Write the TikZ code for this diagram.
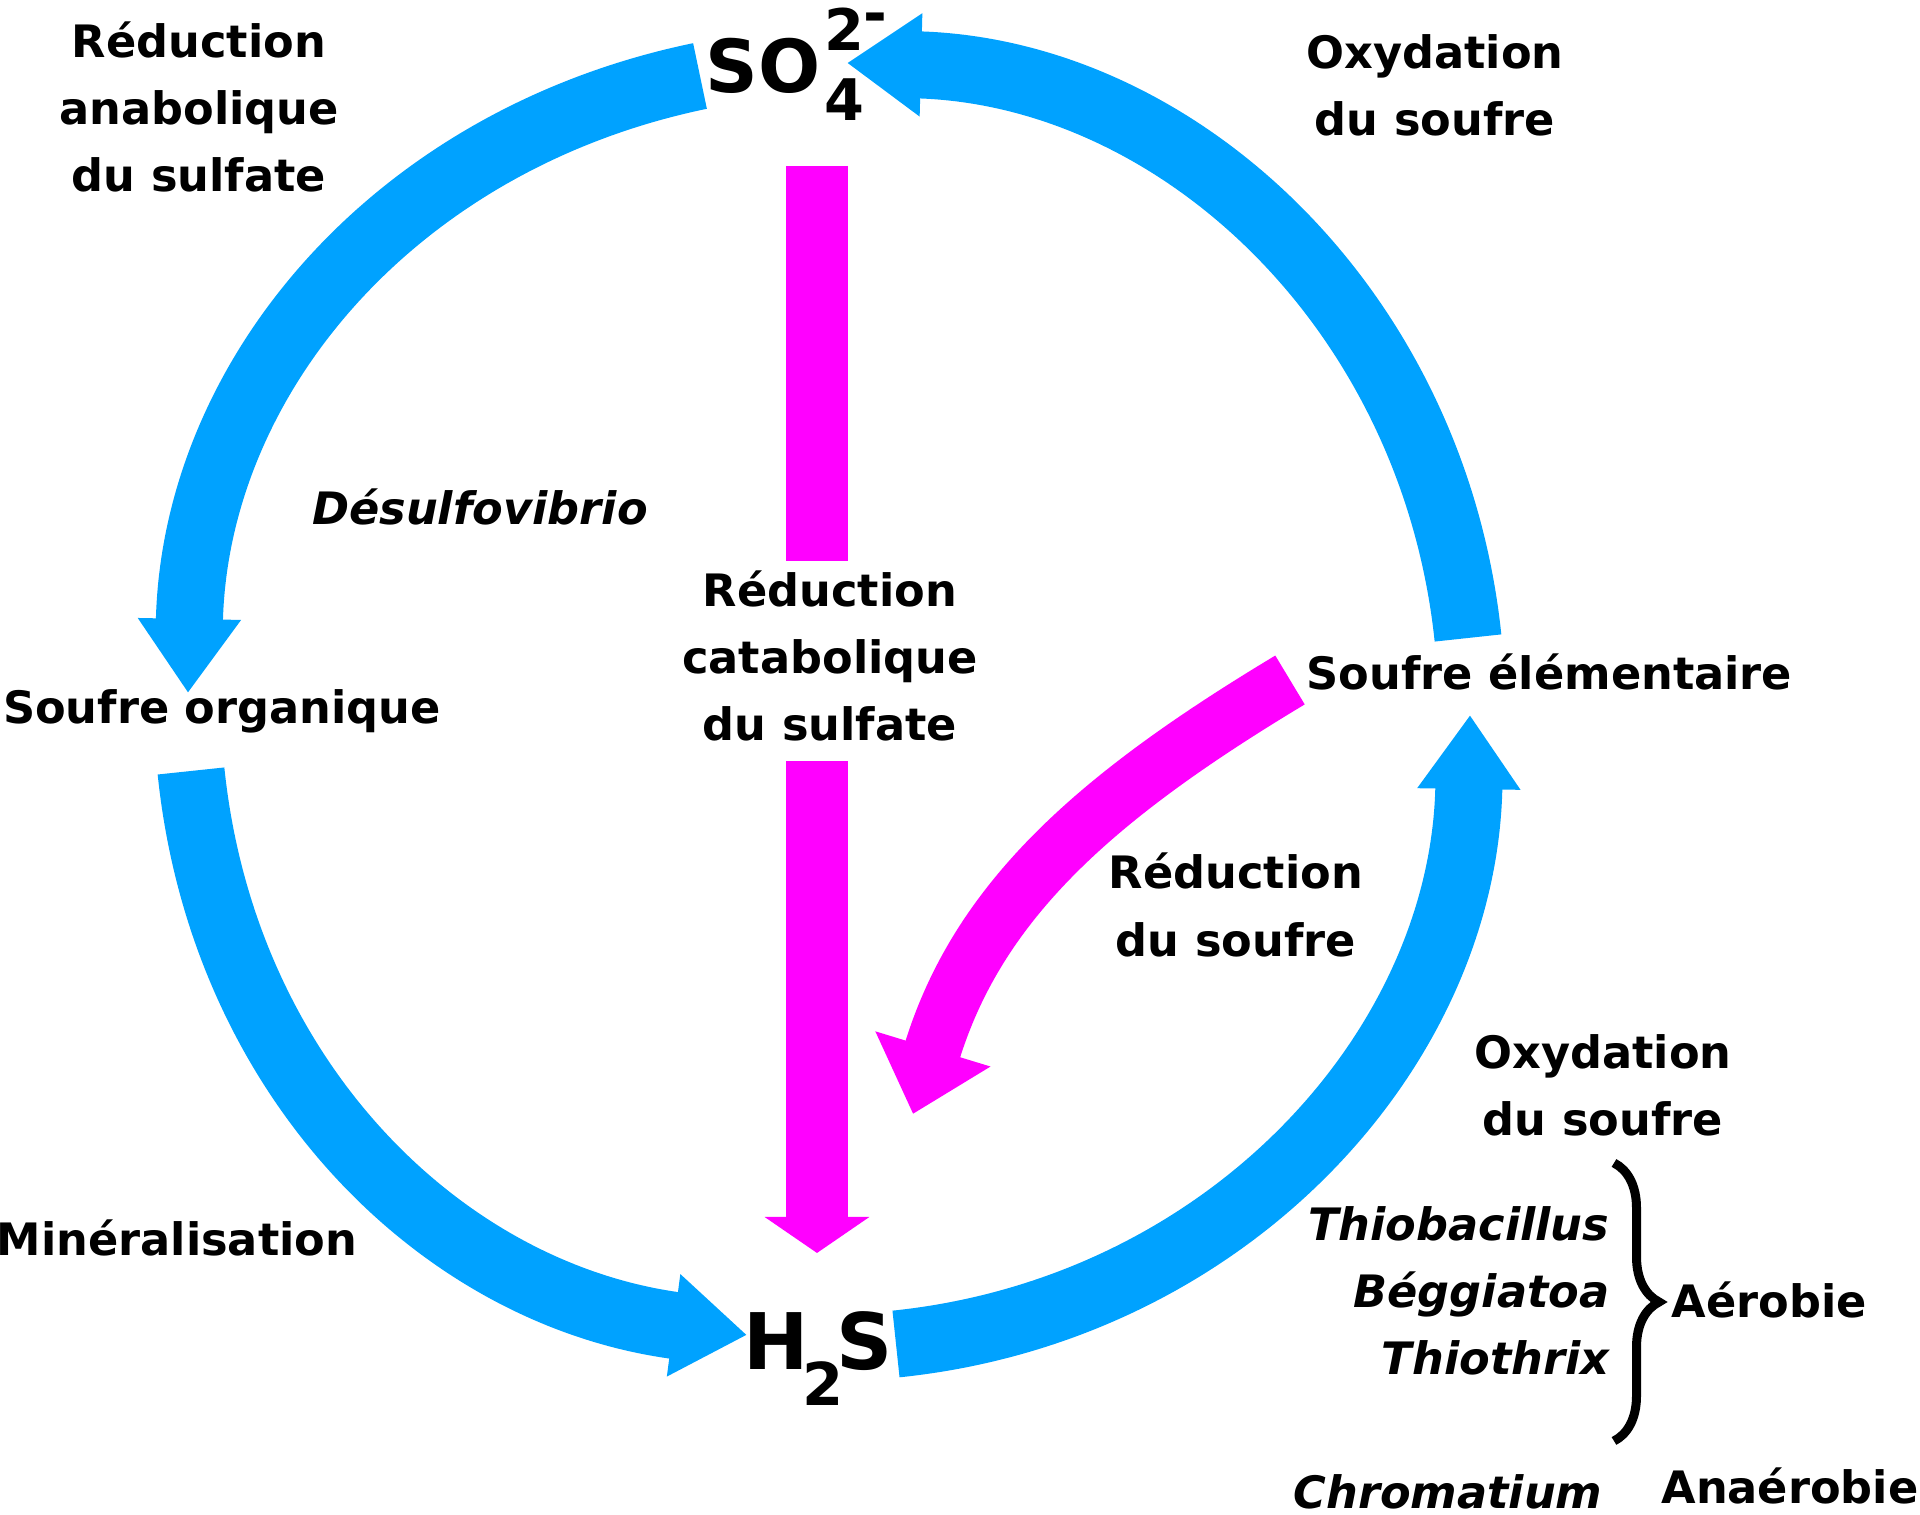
\documentclass[tikz,border=0pt]{standalone}
\usepackage{fontspec}
\setmainfont{DejaVu Sans}[BoldItalicFont={DejaVu Sans Bold Oblique}]
\usetikzlibrary{arrows.meta,decorations.pathreplacing}
\definecolor{cycleblue}{HTML}{00A2FF}
\definecolor{cyclepink}{HTML}{FF00FF}

\begin{document}
\begin{tikzpicture}[x=0.01cm, y=0.01cm,
        lbl/.style={font=\fontsize{12.7}{19.1}\selectfont\bfseries, inner sep=0pt, align=center},
        genus/.style={lbl, font=\fontsize{12.7}{19.1}\selectfont\bfseries\itshape},
        cyc/.style={draw=cycleblue, line width=0.67cm, -{Triangle[width=0.98cm,length=0.74cm]}},
        catbar/.style={draw=cyclepink, line width=0.62cm},
        souf/.style={draw=cyclepink, line width=0.57cm, -{Triangle[width=1.16cm,length=0.68cm]}}]
        \useasboundingbox (0,0) rectangle (1920,1515);
        % Species
        \node[anchor=base west, inner sep=0pt, font=\bfseries] (so4) at (705,1422)
            {\fontsize{20.8}{22}\selectfont SO\hspace{1pt}\rlap{\raisebox{-7.7pt}{\fontsize{16.3}{17}\selectfont 4}}\raisebox{12.2pt}{\fontsize{16.3}{17}\selectfont 2\raisebox{4.6pt}{-}}};
        \node[anchor=base west, inner sep=0pt, font=\bfseries] (h2s) at (743,145)
            {\fontsize{22.2}{24}\selectfont H\hspace{-2pt}\raisebox{-10pt}{\fontsize{16.8}{18}\selectfont 2}\hspace{-2pt}S};
        \node[lbl, anchor=base] (sorg) at (222,791) {Soufre organique};
        \node[lbl, anchor=base west] (selem) at (1306,825) {Soufre élémentaire};
        % Processes
        \node[lbl] (anab) at (199,1408) {Réduction\\anabolique\\du sulfate};
        \node[lbl] (oxyd) at (1435,1430) {Oxydation\\du soufre};
        \node[genus, anchor=base] (desulfo) at (480,990) {Désulfovibrio};
        \node[lbl, outer sep=0.1cm] (catab) at (830,859) {Réduction\\catabolique\\du sulfate};
        \node[lbl] (redsouf) at (1236,610) {Réduction\\du soufre};
        \node[lbl, anchor=base] (miner) at (177,259) {Minéralisation};
        \node[lbl] (oxyd2) at (1603,430) {Oxydation\\du soufre};
        % Bacteria
        \node[genus, align=right, anchor=east] (thio) at (1610,224) {Thiobacillus\\Béggiatoa\\Thiothrix};
        \node[lbl, anchor=base west] (aero) at (1671,197) {Aérobie};
        \node[genus, anchor=base] (chrom) at (1448,6) {Chromatium};
        \node[lbl, anchor=base] (anaero) at (1790,11) {Anaérobie};
        % Ends of the arrows on the cycle
        \coordinate (so4w) at (700,1439);
        \coordinate (sorgn) at (188,822);
        \coordinate (sorgs) at (191,744);
        \coordinate (h2sw) at (747,180);
        \coordinate (h2se) at (896,171);
        \coordinate (selems) at (1470,800);
        \coordinate (selemn) at (1468,877);
        \coordinate (so4e) at (847,1452);
        \coordinate (cattop) at (817,1349);
        \coordinate (h2sn) at (817,262);
        \coordinate (selemw) at (1290,835);
        \coordinate (h2sne) at (913,401);
        % Cycle
        \draw[cyc] (so4w) to[out=191.7, in=88.9] (sorgn);
        \draw[cyc] (sorgs) to[out=275.9, in=172.5] (h2sw);
        \draw[cyc] (h2se) to[out=5.9, in=269.1] (selems);
        \draw[cyc] (selemn) to[out=96, in=-1.5] (so4e);
        % Catabolic reductions
        \draw[catbar] (cattop) -- (cattop |- catab.north);
        \draw[catbar, -{Triangle[width=1.03cm,length=0.36cm]}] ([yshift=-0.1cm]cattop |- catab.south) -- (h2sn);
        \draw[souf] (selemw) to[out=211, in=73] (h2sne);
        % Brace
        \draw[line width=0.09cm, decorate, decoration={brace, amplitude=0.45cm}] (1614,352) -- (1614,74);
\end{tikzpicture}
\end{document}
